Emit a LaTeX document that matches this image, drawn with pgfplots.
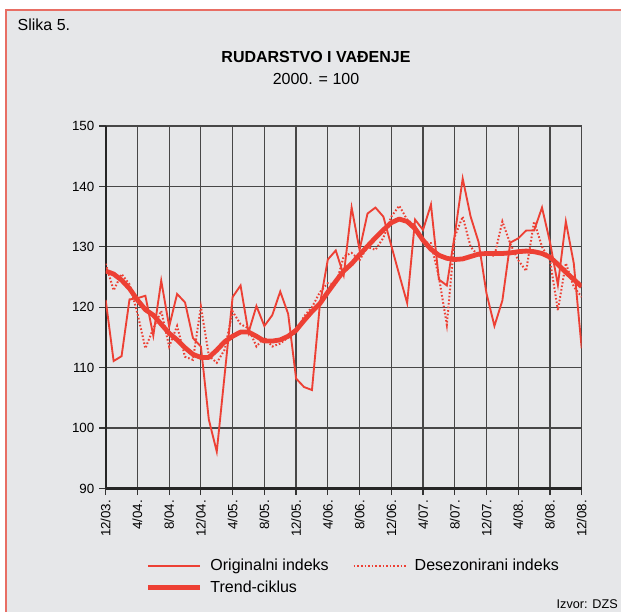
\documentclass[border=0pt]{standalone}
\usepackage{fontspec}
\setmainfont{Liberation Sans}
\usepackage{pgfplots}
\pgfplotsset{compat=1.18}
\definecolor{bg}{RGB}{230,231,233}
\definecolor{lred}{RGB}{237,64,52}
\definecolor{framec}{RGB}{232,110,100}
\begin{document}
\begin{tikzpicture}[x=0.75pt,y=0.75pt]
\useasboundingbox (0,0) rectangle (621,612);
\fill[white] (0,0) rectangle (621,612);
\fill[bg] (6,0) rectangle (621,602);
\draw[framec, line width=0.8pt] (6,0) -- (6,602) -- (621,602);
\node[anchor=west, font=\fontsize{12}{14}\selectfont] at (13,587) {Slika 5.};
\node[font=\fontsize{12}{14}\selectfont\bfseries] at (316,555) {RUDARSTVO I VAĐENJE};
\node[font=\fontsize{12}{14}\selectfont] at (316,533) {2000. = 100};
\node[anchor=west, font=\fontsize{9.5}{11}\selectfont] at (552,8) {Izvor: DZS};
\begin{axis}[
  at={(79.275pt,92.625pt)}, anchor=south west,
  scale only axis, width=357pt, height=271.875pt,
  xmin=0, xmax=60, ymin=90, ymax=150,
  xtick={0,4,...,60},
  xticklabels={12/03.,4/04.,8/04.,12/04.,4/05.,8/05.,12/05.,4/06.,8/06.,12/06.,4/07.,8/07.,12/07.,4/08.,8/08.,12/08.},
  ytick={90,100,...,150},
  axis lines*=left,
  axis line style={line width=1.8pt, black!85},
  grid=major,
  major grid style={line width=0.9pt, black!72},
  tick align=outside, major tick length=5pt,
  tick style={line width=0.9pt, black!80},
  x tick label style={rotate=90, anchor=east, font=\fontsize{10}{12}\selectfont},
  y tick label style={font=\fontsize{10}{12}\selectfont},
  /pgf/number format/assume math mode=true,
  legend columns=2,
  legend cell align=left,
  legend style={at={(0.075,-0.18)}, anchor=north west, draw=none, fill=none,
    font=\fontsize{12}{14}\selectfont, row sep=2pt,
    /tikz/every odd column/.append style={column sep=4pt},
    /tikz/every even column/.append style={column sep=16pt}},
  legend image code/.code={\draw[#1] (0pt,0pt) -- (39pt,0pt);},
]
\addplot[lred, line width=1.4pt] table {
x y
0 121.2
1 111.1
2 111.9
3 121.3
4 121.5
5 121.9
6 115.3
7 124.4
8 116.8
9 122.2
10 120.8
11 114.9
12 113.5
13 101.4
14 96.1
15 108.9
16 121.7
17 123.6
18 115.8
19 120.2
20 116.9
21 118.7
22 122.6
23 118.9
24 108.2
25 106.8
26 106.3
27 120.5
28 127.9
29 129.4
30 125.3
31 136.5
32 129.5
33 135.5
34 136.5
35 135.0
36 130.2
37 125.4
38 120.7
39 134.5
40 132.8
41 137.0
42 124.6
43 123.6
44 132.0
45 141.3
46 135.0
47 130.8
48 122.3
49 116.9
50 121.1
51 130.7
52 131.4
53 132.7
54 132.7
55 136.5
56 130.8
57 123.7
58 134.2
59 127.3
60 113.2
};
\addlegendentry{Originalni indeks}
\addplot[lred, line width=1.5pt, dash pattern=on 1.2pt off 1.5pt] table {
x y
0 127.2
1 122.8
2 125.5
3 123.8
4 119.0
5 113.2
6 116.5
7 119.4
8 113.5
9 116.9
10 111.8
11 111.3
12 120.1
13 112.0
14 110.8
15 113.0
16 119.3
17 117.2
18 116.5
19 113.5
20 115.0
21 113.5
22 114.0
23 115.0
24 115.8
25 118.5
26 120.0
27 122.5
28 124.0
29 123.7
30 128.4
31 129.0
32 127.8
33 130.0
34 129.5
35 131.5
36 135.0
37 136.8
38 134.5
39 133.5
40 130.8
41 130.6
42 125.0
43 117.1
44 131.7
45 135.0
46 130.0
47 128.5
48 128.9
49 128.5
50 134.2
51 130.5
52 127.8
53 126.0
54 134.2
55 130.0
56 127.8
57 119.5
58 127.3
59 123.4
60 121.7
};
\addlegendentry{Desezonirani indeks}
\addplot[lred, line width=3.6pt, line join=round] table {
x y
0 126.0
1 125.5
2 124.5
3 123.1
4 121.2
5 119.6
6 118.7
7 117.2
8 115.7
9 114.6
10 113.3
11 112.2
12 111.7
13 111.7
14 112.9
15 114.3
16 115.2
17 115.9
18 115.9
19 115.2
20 114.4
21 114.4
22 114.6
23 115.2
24 116.2
25 117.8
26 119.3
27 120.6
28 122.5
29 124.3
30 126.0
31 127.2
32 128.7
33 130.1
34 131.5
35 132.8
36 134.0
37 134.6
38 134.2
39 133.0
40 131.1
41 129.6
42 128.6
43 128.1
44 127.9
45 128.0
46 128.4
47 128.8
48 128.9
49 128.9
50 128.9
51 129.0
52 129.2
53 129.3
54 129.2
55 128.9
56 128.3
57 127.1
58 125.8
59 124.6
60 123.4
};
\addlegendentry{Trend-ciklus}
\end{axis}
\end{tikzpicture}
\end{document}
